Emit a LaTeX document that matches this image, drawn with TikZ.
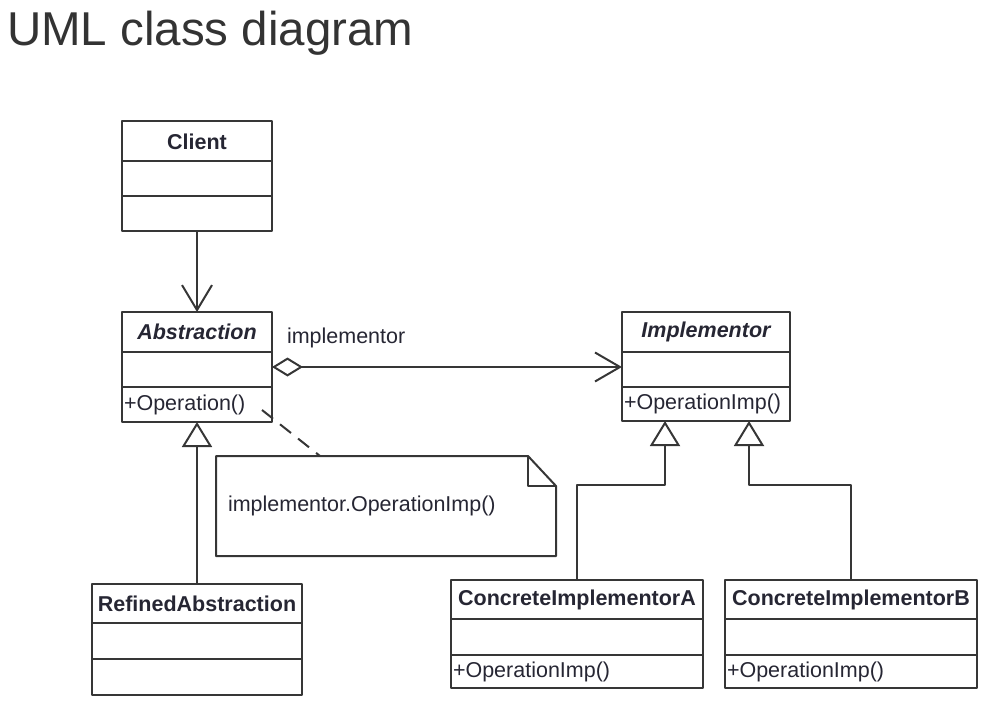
\documentclass[tikz,border=0pt]{standalone}
\usepackage{fontspec}
\setmainfont{Liberation Sans}
\usetikzlibrary{positioning,arrows.meta}
\definecolor{umlline}{HTML}{363636}
\definecolor{umltext}{HTML}{262633}
\definecolor{titlegray}{HTML}{333333}
\newcommand\umlsize{\fontsize{21.5}{26}\selectfont}
\begin{document}
\begin{tikzpicture}[x=1pt,y=-1pt,line join=round,
	every node/.style={inner sep=0pt,outer sep=0pt,text=umltext,font=\umlsize},
	namebox/.style={draw=umlline,line width=2pt,minimum width=#1,minimum height=40,font=\umlsize\bfseries},
	membox/.style={draw=umlline,line width=2pt,minimum width=#1,minimum height=35},
	opbox/.style={membox=0pt,text width=#1,align=left,inner xsep=2pt},
	notebox/.style={minimum width=340,minimum height=100,text width=316,align=left},
	umledge/.style={draw=umlline,line width=2pt},
	assoc/.style={umledge,-{Straight Barb[length=25pt,width=30pt]}},
	aggr/.style={umledge,{Diamond[open,length=31pt,width=19pt]}-{Straight Barb[length=25pt,width=29pt]}},
	inherit/.style={umledge,-{Triangle[open,length=25pt,width=30pt]}},
	noteline/.style={umledge,dash pattern=on 14pt off 9pt}]
	\useasboundingbox (0,0) rectangle (989,706);
	\node[anchor=base west,text=titlegray,font=\fontsize{47.5}{56}\selectfont] (title) at (7,46) {UML class diagram};
	% classes
	\node[namebox=150] (client) at (197,141.5) {Client};
	\node[membox=150,below=0pt of client] (client-att) {};
	\node[membox=150,below=0pt of client-att] (client-op) {};
	\node[namebox=150] (abstr) at (197,332) {\itshape Abstraction};
	\node[membox=150,below=0pt of abstr] (abstr-att) {};
	\node[opbox=146,minimum height=35,below=0pt of abstr-att] (abstr-op) {+Operation()};
	\node[namebox=168] (impl) at (706,332) {\itshape Implementor};
	\node[membox=168,below=0pt of impl] (impl-att) {};
	\node[opbox=164,minimum height=34,below=0pt of impl-att] (impl-op) {+OperationImp()};
	\node[namebox=210,minimum height=39] (refined) at (197,603.5) {RefinedAbstraction};
	\node[membox=210,minimum height=36,below=0pt of refined] (refined-att) {};
	\node[membox=210,minimum height=36,below=0pt of refined-att] (refined-op) {};
	\node[namebox=252,minimum height=39] (conca) at (577,599.5) {ConcreteImplementorA};
	\node[membox=252,minimum height=36,below=0pt of conca] (conca-att) {};
	\node[opbox=248,minimum height=33,below=0pt of conca-att] (conca-op) {+OperationImp()};
	\node[namebox=252,minimum height=39] (concb) at (851,599.5) {ConcreteImplementorB};
	\node[membox=252,minimum height=36,below=0pt of concb] (concb-att) {};
	\node[opbox=248,minimum height=33,below=0pt of concb-att] (concb-op) {+OperationImp()};
	\node[notebox] (note) at (386,506) {implementor.OperationImp()};
	\node[anchor=base west] (role) at (287,343) {implementor};
	% relations
	\draw[assoc] (client-op.south) -- (abstr.north);
	\draw[aggr] ([yshift=2.5pt]abstr-att.east) -- ([yshift=2.5pt]impl-att.west);
	\draw[inherit] (refined.north) -- (abstr-op.south);
	\coordinate (elbowa) at (665,485);
	\coordinate (elbowb) at (749,485);
	\draw[inherit] (conca.north) |- (elbowa) -- (elbowa |- impl-op.south);
	\draw[inherit] (concb.north) |- (elbowb) -- (elbowb |- impl-op.south);
	\draw[umledge] (note.south west) |- ([xshift=-28]note.north east) -- ([yshift=-30]note.north east) -- (note.south east) -- cycle;
	\draw[umledge] ([xshift=-28]note.north east) |- ([yshift=-30]note.north east);
	\coordinate (opnote) at (262,410);
	\draw[noteline] (opnote) -- ([xshift=-66]note.north);
\end{tikzpicture}
\end{document}
